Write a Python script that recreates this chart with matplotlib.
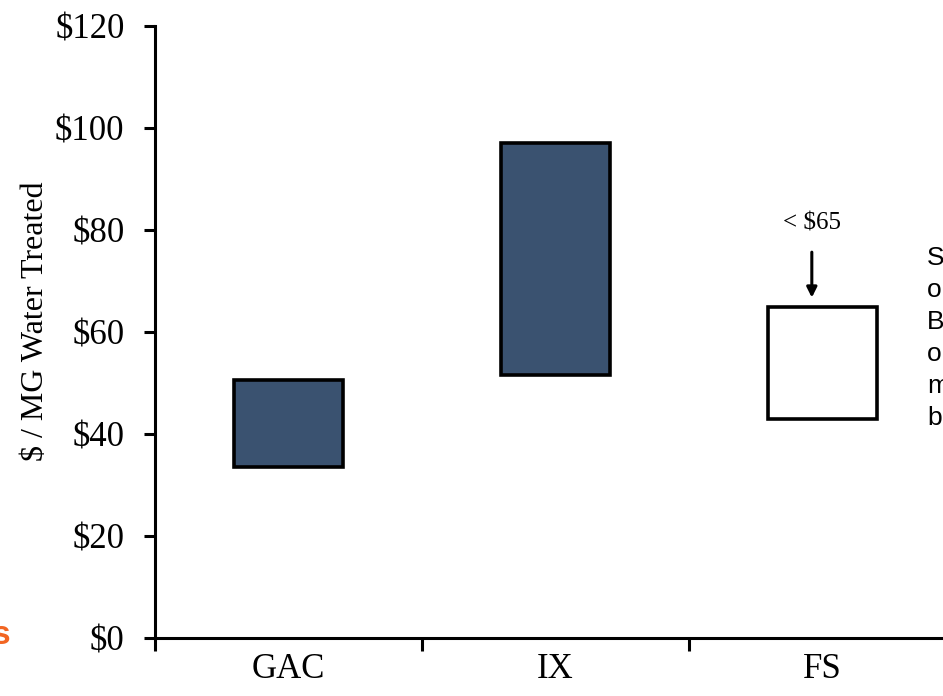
import matplotlib
matplotlib.use("Agg")
import matplotlib.pyplot as plt
import numpy as np

categories = ["GAC", "IX", "FS"]
low = [33.5, 51.5, 43.0]
high = [50.5, 97.0, 65.0]
fills = ["#3A5270", "#3A5270", "#FFFFFF"]
yticks = [0, 20, 40, 60, 80, 100, 120]
ylabels = ["$0", "$20", "$40", "$60", "$80", "$100", "$120"]
note_text = "< $65"
side_lines = ["Se", "o", "B", "o", "m", "b"]

W, H = 943, 696
fig = plt.figure(figsize=(W / 100, H / 100), dpi=100)
ax = fig.add_axes([155 / W, (H - 638) / H, 801 / W, 612 / H])

x = np.arange(len(categories))
heights = [h - l for h, l in zip(high, low)]
ax.bar(x, heights, bottom=low, width=0.41, color=fills, edgecolor="black", linewidth=2.6, zorder=3)

ax.set_xlim(-0.5, 2.5)
ax.set_ylim(0, 120)
serif = ["Liberation Serif", "DejaVu Serif"]
ax.set_yticks(yticks)
ax.set_yticklabels(ylabels, fontfamily=serif, fontsize=25)
ax.set_xticks([-0.5, 0.5, 1.5, 2.5])
ax.set_xticklabels([])
ax.set_xticks(x, minor=True)
ax.set_xticklabels(categories, minor=True, fontfamily=serif, fontsize=25)
ax.tick_params(axis="x", which="minor", length=0, pad=11)
ax.tick_params(axis="x", which="major", length=9, width=2.2, direction="out")
ax.tick_params(axis="y", length=8, width=2.2, direction="out", pad=14)

for s in ["top", "right"]:
    ax.spines[s].set_visible(False)
for s in ["left", "bottom"]:
    ax.spines[s].set_linewidth(2.2)

ax.set_ylabel("$ / MG Water Treated", fontfamily=serif, fontsize=23, va="center")
ax.yaxis.set_label_coords(-0.1498, 0.518)

ax.annotate("", xy=(1.96, high[2] + 1.2), xytext=(1.96, 76.2),
            arrowprops=dict(arrowstyle="-|>,head_length=0.6,head_width=0.3", color="black", lw=2.2),
            zorder=4)
ax.text(1.96, 81.3, note_text, ha="center", va="center", fontfamily=serif, fontsize=18)

for i, t in enumerate(side_lines):
    fig.text(927 / W, 1 - (258 + 32 * i) / H, t, ha="left", va="center",
             fontfamily=["Liberation Sans", "DejaVu Sans"], fontsize=19, color="black")

fig.text(10 / W, 1 - 636 / H, "s", ha="right", va="center", fontfamily=["Liberation Sans", "DejaVu Sans"],
         fontsize=24, fontweight="bold", color="#F26522")

fig.savefig("out.png", dpi=100)
